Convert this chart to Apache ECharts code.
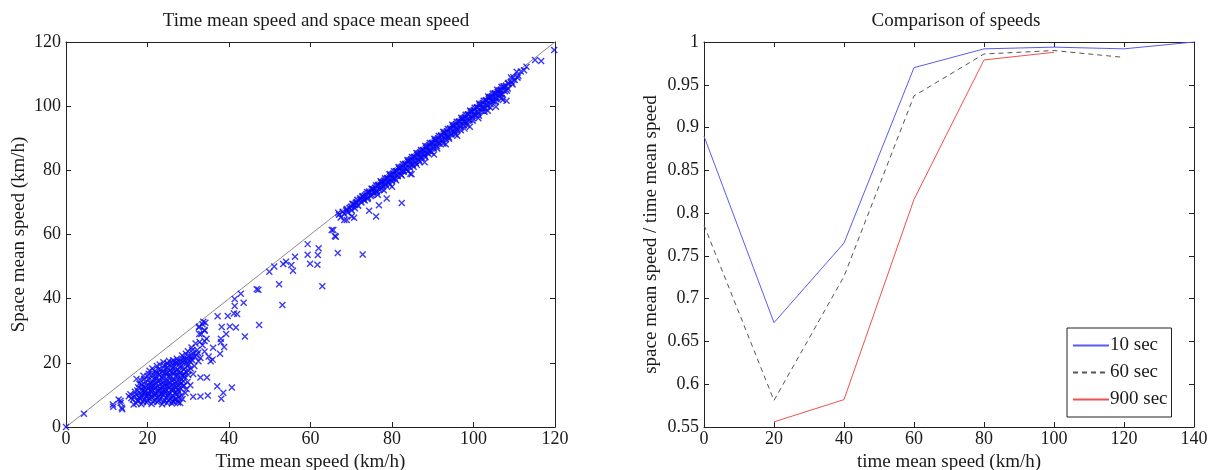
<!DOCTYPE html>
<html><head><meta charset="utf-8">
<script src="https://cdn.jsdelivr.net/npm/echarts@6/dist/echarts.min.js"></script>
<style>html,body{margin:0;padding:0;background:#fff}#c{width:1214px;height:470px}</style>
</head><body><div id="c"></div>
<script>
// ---- Left panel: time mean speed vs space mean speed (km/h) ----
var diagonal = [[0, 0], [120, 120]];

var lowPoints = [[0,0],[4.4,4.1],[11.5,7.0],[11.6,6.3],[12.9,8.6],[13.8,5.5],[13.4,7.5],[13.7,6.0],[15.4,9.6],[16.6,7.0],[13.4,8.2]];

var cluster = [
[17.2,7.4],[18.5,7.1],[19.8,7.6],[21.0,7.2],[22.4,7.8],[23.6,7.1],[24.8,7.5],[26.1,8.0],[27.5,7.6],[28.0,7.5],
[16.4,8.6],[17.8,8.2],[19.1,8.5],[20.3,8.9],[21.7,8.3],[23.0,8.7],[24.2,8.4],[25.5,8.8],[26.8,8.5],
[16.8,9.6],[17.9,9.3],[18.7,9.9],[19.6,9.4],[20.5,10.1],[21.3,9.5],[22.1,10.2],[22.9,9.6],[23.8,10.0],[24.6,9.3],[25.4,10.3],[26.3,9.7],[27.2,10.2],[28.3,9.8],
[18.2,10.6],[19.3,10.9],[20.1,10.4],[21.0,11.0],[21.9,10.7],[22.7,11.2],[23.5,10.6],[24.4,11.1],[25.3,10.8],[26.2,11.3],[27.0,10.9],
[17.5,11.4],[18.6,11.8],[19.4,11.3],[20.2,12.0],[21.1,11.6],[21.9,12.2],[22.8,11.7],[23.7,12.3],[24.5,11.8],[25.4,12.4],[26.3,11.9],[27.2,12.5],[28.1,12.0],
[19.0,12.7],[19.9,13.0],[20.8,12.6],[21.6,13.2],[22.5,12.8],[23.3,13.4],[24.2,12.9],[25.1,13.5],[25.9,13.0],[26.8,13.6],[27.7,13.1],[29.0,12.9],
[18.3,14.6],[19.5,14.1],[20.4,14.8],[21.3,14.3],[22.2,15.0],[23.0,14.4],[23.9,15.1],[24.8,14.6],[25.6,15.3],[26.5,14.7],[27.4,15.4],[28.3,14.9],[29.1,15.6],
[20.0,15.8],[21.0,16.2],[22.0,15.7],[22.9,16.4],[23.8,16.0],[24.7,16.6],[25.5,16.1],[26.4,16.8],[27.3,16.3],[28.2,17.0],[29.0,16.5],
[21.8,17.4],[22.7,17.9],[23.6,17.3],[24.5,18.1],[25.4,17.6],[26.2,18.4],[27.1,17.8],[28.0,18.6],[28.9,18.0],[29.8,18.9],
[24.0,19.2],[25.0,19.6],[25.9,19.1],[26.8,19.9],[27.7,19.4],[28.6,20.2],[29.5,19.7],[30.4,20.5],
[26.3,20.8],[27.2,21.3],[28.1,20.7],[29.0,21.6],[29.9,21.1],[30.8,21.9],[28.5,22.3],[29.4,22.8],[30.3,22.2],[31.2,23.0],[32.0,22.4],
[18.0,13.5],[17.3,15.0],[19.0,16.0],[20.5,17.5],[23.0,19.5],[29.8,14.0],[30.5,13.0],[31.2,16.5],[30.0,17.5],[31.5,19.0],[32.5,20.5],[33.0,21.5],
[32.2,24.0],[33.5,25.5],[32.8,26.5],[34.0,26.8],[34.5,27.5],[33.2,29.0],[34.0,30.0],[33.5,32.0],[34.2,32.5],[32.6,31.0],[35.0,22.0],[34.0,23.5],
[35.5,20.5],[36.0,21.0],[30.8,24.8],[31.8,26.0],
[17.6,8.0],[18.9,7.8],[20.0,8.2],[21.4,7.9],[22.7,8.2],[24.0,7.9],[25.2,8.2],[26.5,7.8],
[17.1,10.1],[18.4,9.6],[19.9,9.8],[21.7,9.9],[23.3,10.3],[25.0,9.8],[26.7,10.5],[27.8,11.0],
[18.9,11.2],[20.6,11.4],[22.3,11.0],[24.0,11.5],[25.8,11.6],[27.5,11.7],[28.6,12.6],
[19.5,12.3],[21.2,12.5],[23.0,12.1],[24.7,12.6],[26.6,12.7],[28.3,13.6],
[20.7,13.8],[22.1,13.7],[23.8,13.9],[25.4,14.1],[27.1,14.2],[28.8,14.3],
[21.6,14.9],[23.4,15.6],[25.1,15.7],[26.9,15.9],[28.7,15.9],[30.0,16.2],
[22.4,16.9],[24.2,17.1],[25.9,17.2],[27.7,17.4],[29.4,17.3],[30.6,18.2],
[24.9,18.6],[26.6,18.9],[28.4,19.1],[30.1,19.5],[31.0,20.8],
[27.0,20.3],[28.8,21.0],[30.6,21.3],[31.6,22.0],[29.9,23.6],[31.0,24.0],[32.4,23.1],
[16.0,9.0],[15.8,10.2],[16.9,11.0],[17.7,12.4],[18.6,13.2],[19.2,15.0],[20.3,16.6],[21.2,18.2],[22.3,19.0],[23.9,20.2],[25.3,20.6],
[26.0,7.3],[27.0,8.9],[28.6,8.7],[29.3,10.6],[29.6,11.8],
[18.1,9.0],[19.4,10.2],[20.8,9.4],[22.5,9.1],[24.1,10.6],[25.9,9.2],[27.6,9.3],[20.9,13.4],[22.6,14.2],[24.4,13.6],[26.1,14.3],
[27.9,14.0],[21.9,16.6],[23.3,17.8],[25.0,16.9],[26.8,17.1],[28.5,16.1],[24.8,19.9],[26.2,20.2],[27.6,20.5],[29.2,20.9]
];

var midPoints = [
[31.2,9.4],[33.0,9.5],[34.8,9.8],[37.1,12.7],[38.1,8.8],[38.6,10.7],[40.7,12.3],[33.0,15.4],[34.6,15.4],[27.4,8.1],
[43.9,28.2],[47.4,31.8],[53.1,38.0],[33.7,32.8],[32.7,31.3],[34.0,30.2],[32.7,29.0],[38.0,26.4],[38.8,24.9],[37.8,22.8],[36.1,24.7],
[37.2,34.5],[39.7,34.6],[41.2,35.4],[42.0,35.2],[38.2,31.2],[40.2,31.3],[41.7,31.0],[39.3,29.0],[38.0,27.5],
[42.9,41.5],[41.4,39.9],[43.6,38.7],[41.4,37.7],[46.8,42.9],[47.2,42.8],[52.3,44.5],[49.9,48.4],[51.1,50.0],
[53.3,50.8],[54.0,51.5],[55.3,50.5],[55.7,48.7],[56.2,53.1],[59.3,57.0],[59.3,53.7],[59.9,50.9],[61.7,50.6],
[62.0,55.7],[61.8,53.6],[62.9,43.9],[66.7,54.2],[65.6,61.4],[66.0,59.5],[65.2,61.4],[66.2,59.3],[66.8,66.8],
[68.3,64.5],[68.9,64.5],[70.1,65.6],[70.7,65.2],[72.8,53.8],[76.1,65.6],[78.7,71.2],[82.4,69.8],[74.4,67.4],[76.8,69.1]
];

var band = [
[67.0,66.2],[67.4,65.3],[67.9,67.1],[68.3,66.4],[68.8,67.6],[69.2,66.9],[69.6,68.3],[70.1,67.5],[70.5,69.4],[70.9,68.2],
[71.3,70.1],[71.7,69.0],[72.2,71.3],[72.5,70.0],[72.9,71.8],[73.3,70.6],[73.7,72.6],[74.1,71.5],[74.4,73.4],[74.8,72.0],
[75.2,74.1],[75.6,72.9],[75.9,74.6],[76.3,73.2],[76.7,75.5],[77.0,74.0],[77.4,76.2],[77.8,74.9],[78.1,76.8],[78.5,75.3],
[78.9,77.6],[79.2,76.1],[79.6,78.3],[80.0,76.7],[80.3,79.0],[80.7,77.4],[81.1,79.8],[81.4,78.2],[81.8,80.5],[82.2,78.7],
[82.5,81.2],[82.9,79.6],[83.3,82.0],[83.6,80.2],[84.0,82.7],[84.4,80.9],[84.7,83.4],[85.1,81.8],[85.5,84.1],[85.8,82.3],
[86.2,84.8],[86.6,83.2],[86.9,85.6],[87.3,83.9],[87.7,86.2],[88.0,84.6],[88.4,87.0],[88.8,85.3],[89.1,87.8],[89.5,86.0],
[89.9,88.5],[90.2,86.9],[90.6,89.2],[91.0,87.5],[91.3,90.0],[91.7,88.3],[92.1,90.7],[92.4,89.0],[92.8,91.5],[93.2,89.8],
[93.5,92.2],[93.9,90.4],[94.3,92.9],[94.6,91.2],[95.0,93.7],[95.4,92.0],[95.7,94.4],[96.1,92.6],[96.5,95.1],[96.8,93.5],
[97.2,95.9],[97.6,94.1],[97.9,96.6],[98.3,94.9],[98.7,97.4],[99.0,95.6],[99.4,98.1],[99.8,96.3],[100.1,98.8],[100.5,97.2],
[100.9,99.6],[101.2,97.8],[101.6,100.3],[102.0,98.5],[102.3,101.0],[102.7,99.3],[103.1,101.7],[103.4,100.0],[103.8,102.4],[104.2,100.6],
[104.5,103.1],[104.9,101.5],[105.3,103.8],[105.6,102.2],[106.0,104.4],[106.4,102.9],[106.7,105.0],[107.1,103.7],[107.5,105.8],[108.0,106.3],
[108.6,107.0],[109.3,107.4],[110.1,108.2],[110.8,108.9],
[70.3,69.6],[71.5,70.8],[72.7,71.9],[73.9,73.2],[75.0,74.3],[76.1,75.3],[77.2,76.6],[78.3,77.5],[79.4,78.8],[80.5,79.7],
[81.6,81.0],[82.7,81.9],[83.8,83.2],[84.9,84.1],[86.0,85.4],[87.1,86.3],[88.2,87.6],[89.3,88.5],[90.4,89.8],[91.5,90.7],
[92.6,92.0],[93.7,92.9],[94.8,94.2],[95.9,95.1],[97.0,96.4],[98.1,97.3],[99.2,98.6],[100.3,99.5],[101.4,100.8],[102.5,101.7],
[103.6,103.0],[104.7,103.9],[105.8,105.1],[106.9,106.0],
[76.5,72.4],[78.0,73.8],[79.5,75.6],[81.0,76.9],[82.4,78.4],[83.9,79.7],[85.3,81.1],[86.8,82.6],[88.2,84.1],[89.7,85.6],
[91.1,86.8],[92.6,88.4],[94.0,89.9],[95.5,91.3],[96.9,92.5],[98.4,94.2],[99.8,95.5],[101.3,97.0],[102.7,98.3],[104.1,99.6],
[105.4,101.4],[106.9,102.5],[108.2,104.9],
[71.0,69.2],[73.0,70.9],[75.3,73.2],[77.6,75.4],[79.8,77.6],[82.0,79.8],[84.2,81.9],[86.4,84.2],[88.6,86.4],[90.8,88.6],
[93.0,90.8],[95.2,92.9],[97.4,95.2],[99.6,97.2],[101.8,99.5],[104.0,101.8],[106.2,103.9],[108.4,105.5],[109.6,106.8],
[68.9,67.9],[70.0,68.7],[71.1,69.9],[72.2,70.9],[73.3,72.1],[74.4,73.0],[75.5,74.2],[76.6,75.3],[77.7,76.4],[78.8,77.5],
[79.9,78.7],[81.0,79.7],[82.1,80.9],[83.2,81.9],[84.3,83.1],[85.4,84.1],[86.5,85.3],[87.6,86.3],[88.7,87.5],[89.8,88.5],
[90.9,89.6],[92.0,90.8],[93.1,91.8],[94.2,93.0],[95.3,94.0],[96.4,95.2],[97.5,96.2],[98.6,97.4],[99.7,98.4],[100.8,99.6],
[101.9,100.6],[103.0,101.8],[104.1,102.8],[105.2,104.0],[106.3,104.9],[107.4,106.2],[108.5,107.2],
[74.0,71.1],[75.1,72.3],[76.2,73.5],[77.3,74.4],[78.4,75.7],[79.0,76.3],[80.2,77.5],[81.3,78.4],[82.6,79.9],[83.4,80.6],
[84.6,81.9],[85.7,82.8],[87.0,84.2],[87.9,85.2],[89.0,86.1],[90.1,87.3],[91.4,88.7],[92.3,89.4],[93.4,90.6],[94.5,91.6],
[95.8,93.1],[96.7,93.8],[97.8,95.1],[98.9,95.9],[100.2,97.5],[101.1,98.2],[102.2,99.4],[103.3,100.4],[104.6,101.9],[105.5,102.6],
[106.6,103.9],[107.7,104.7]
];

var bandOutliers = [
[80.0,74.9],[84.5,78.9],[84.8,78.8],[86.1,81.7],[88.0,82.5],[90.3,84.9],[93.2,88.1],[96.0,90.8],[97.8,93.0],[99.1,93.6],
[101.2,96.2],[103.5,98.6],[105.5,99.8],[107.2,101.9],[108.1,101.7],[104.0,102.8],
[109.2,108.9],[110.6,110.7],[111.6,110.8],[113.0,112.3],[112.4,111.2],[115.1,114.4],[116.6,114.1],[119.8,117.5],[111.0,109.5],[109.8,109.0]
];

// ---- Right panel: ratio space/time mean speed per time mean speed class ----
var speedClasses = [0, 20, 40, 60, 80, 100, 120, 140];
var ratio10s  = [0.890, 0.672, 0.765, 0.970, 0.992, 0.994, 0.992, 1.000];
var ratio60s  = [0.786, 0.581, 0.726, 0.937, 0.986, 0.990, 0.982, null];
var ratio900s = [null, 0.556, 0.582, 0.816, 0.979, 0.988, null, null];
var seriesNames = ['10 sec', '60 sec', '900 sec'];

var FONT = 'Liberation Serif';
var TXT = '#1a1a1a';

function pairs(xs, ys) {
  var out = [];
  for (var i = 0; i < xs.length; i++) if (ys[i] !== null) out.push([xs[i], ys[i]]);
  return out;
}

function axisDef(gridIndex, isX, min, max, interval, name, nameGap, showLabels) {
  var base = {
    type: 'value', gridIndex: gridIndex, min: min, max: max, interval: interval,
    axisLine: { show: true, onZero: false, lineStyle: { color: '#222', width: 1 } },
    axisTick: { show: true, inside: true, length: 5, lineStyle: { color: '#222' } },
    splitLine: { show: false },
    axisLabel: { show: showLabels, fontFamily: FONT, fontSize: 18, color: TXT, margin: isX ? 3 : 5 }
  };
  if (name) {
    base.name = name; base.nameLocation = 'middle'; base.nameGap = nameGap;
    base.nameTextStyle = { fontFamily: FONT, fontSize: 19, color: TXT };
  }
  return base;
}

var xL = axisDef(0, true, 0, 120, 20, 'Time mean speed (km/h)', 18, true); xL.position = 'bottom';
var xL2 = axisDef(0, true, 0, 120, 20, null, 0, false); xL2.position = 'top';
var yL = axisDef(0, false, 0, 120, 20, 'Space mean speed (km/h)', 37, true); yL.position = 'left';
var yL2 = axisDef(0, false, 0, 120, 20, null, 0, false); yL2.position = 'right';

var xR = axisDef(1, true, 0, 140, 20, 'time mean speed (km/h)', 18, true); xR.position = 'bottom';
var xR2 = axisDef(1, true, 0, 140, 20, null, 0, false); xR2.position = 'top';
var yR = axisDef(1, false, 0.55, 1, 0.05, 'space mean speed / time mean speed', 43, true); yR.position = 'left';
yR.axisLabel.formatter = function (v) { return String(Math.round(v * 100) / 100); };
var yR2 = axisDef(1, false, 0.55, 1, 0.05, null, 0, false); yR2.position = 'right';

var xSym = 'path://M0,0L10,10M10,0L0,10';
function scatterSeries(data, width) {
  return {
    type: 'scatter', xAxisIndex: 0, yAxisIndex: 0, data: data, symbol: xSym, symbolSize: 6,
    itemStyle: { color: 'rgba(0,0,0,0)', borderColor: '#0a0af5', borderWidth: width },
    silent: true, z: 3
  };
}

var chart = echarts.init(document.getElementById('c'));
chart.setOption({
  animation: false,
  backgroundColor: '#fff',
  title: [
    { text: 'Time mean speed and space mean speed', left: 311, top: 7, textAlign: 'center',
      textStyle: { fontFamily: FONT, fontSize: 19, fontWeight: 'normal', color: TXT } },
    { text: 'Comparison of speeds', left: 951, top: 7, textAlign: 'center',
      textStyle: { fontFamily: FONT, fontSize: 19, fontWeight: 'normal', color: TXT } }
  ],
  grid: [
    { left: 66, right: 659, top: 42, bottom: 43, containLabel: false, outerBoundsMode: 'none' },
    { left: 704, right: 20, top: 42, bottom: 43, containLabel: false, outerBoundsMode: 'none' }
  ],
  legend: {
    data: seriesNames, orient: 'vertical', left: 1067, top: 328,
    borderColor: '#222', borderWidth: 1, padding: [8, 4, 8, 5], itemGap: 8,
    itemWidth: 36, itemHeight: 12, backgroundColor: '#fff',
    itemStyle: { opacity: 0 },
    textStyle: { fontFamily: FONT, fontSize: 19, color: TXT, padding: [0, 0, 0, -4] }
  },
  xAxis: [xL, xL2, xR, xR2],
  yAxis: [yL, yL2, yR, yR2],
  series: [
    { type: 'line', xAxisIndex: 0, yAxisIndex: 0, data: diagonal, symbol: 'none',
      lineStyle: { color: '#8a8a8a', width: 1 }, silent: true, z: 2 },
    scatterSeries(lowPoints, 1.4),
    scatterSeries(cluster, 1.4),
    scatterSeries(midPoints, 1.4),
    scatterSeries(band, 1.6),
    scatterSeries(bandOutliers, 1.4),
    { name: seriesNames[0], type: 'line', xAxisIndex: 2, yAxisIndex: 2, data: pairs(speedClasses, ratio10s),
      symbol: 'none', lineStyle: { color: '#5a5af0', width: 1 }, itemStyle: { color: '#5a5af0' } },
    { name: seriesNames[1], type: 'line', xAxisIndex: 2, yAxisIndex: 2, data: pairs(speedClasses, ratio60s),
      symbol: 'none', lineStyle: { color: '#555', width: 1, type: [5, 4] }, itemStyle: { color: '#555' } },
    { name: seriesNames[2], type: 'line', xAxisIndex: 2, yAxisIndex: 2, data: pairs(speedClasses, ratio900s),
      symbol: 'none', lineStyle: { color: '#f05050', width: 1 }, itemStyle: { color: '#f05050' } }
  ]
});
</script>
</body></html>
